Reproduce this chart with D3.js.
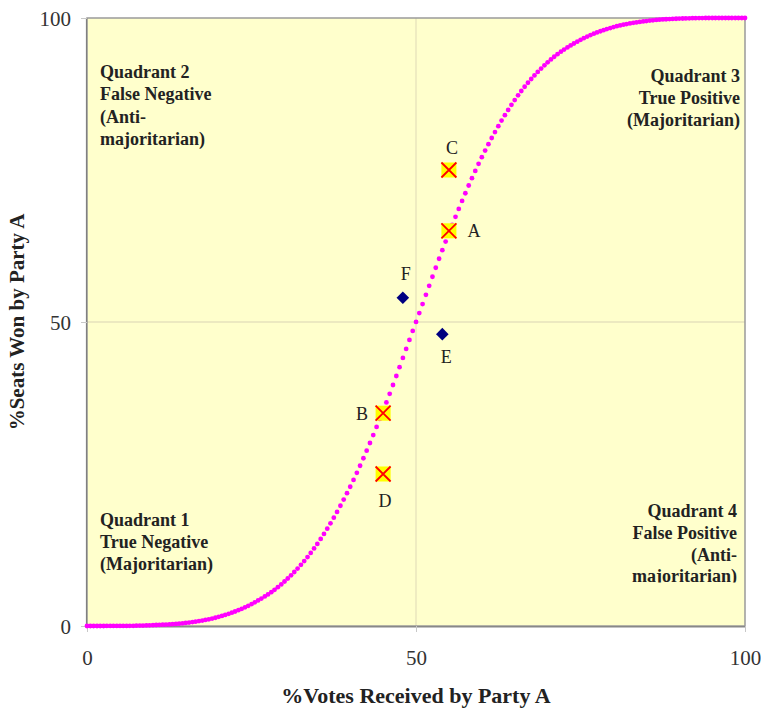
<!DOCTYPE html>
<html><head><meta charset="utf-8">
<script src="https://cdn.jsdelivr.net/npm/d3@7"></script>
<style>body{margin:0;background:#fff} text{font-family:"Liberation Serif","Times New Roman",serif}</style>
</head><body>
<svg id="c" width="761" height="713"></svg>
<script>
// ---- data ----
const curveVotes = [0, 5, 10, 15, 20, 25, 30, 35, 40, 45, 50, 55, 60, 65, 70, 75, 80, 85, 90, 95, 100];
const curveSeats = [0, 0.01, 0.14, 0.5, 1.5, 3.6, 7.3, 13.5, 22.9, 35.4, 50, 64.6, 77.1, 86.5, 92.7, 96.4, 98.5, 99.5, 99.9, 100, 100];
const pointNames = ["A", "B", "C", "D", "E", "F"];
const pointVotes = [55, 45, 55, 45, 54, 48];
const pointSeats = [65, 35, 75, 25, 48, 54];
const pointKinds = ["cross", "cross", "cross", "cross", "diamond", "diamond"];
const xTicks = [0, 50, 100];
const yTicks = [0, 50, 100];
const q1Lines = ["Quadrant 1", "True Negative", "(Majoritarian)"];
const q2Lines = ["Quadrant 2", "False Negative", "(Anti-", "majoritarian)"];
const q3Lines = ["Quadrant 3", "True Positive", "(Majoritarian)"];
const q4Lines = ["Quadrant 4", "False Positive", "(Anti-", "majoritarian)"];
const xTitle = "%Votes Received by Party A";
const yTitle = "%Seats Won by Party A";

// ---- layout ----
const svg = d3.select("#c");
const L = 87, T = 18, W = 658, H = 608;
const x = d3.scaleLinear().domain([0, 100]).range([L, L + W]);
const y = d3.scaleLinear().domain([0, 100]).range([T + H, T]);

// plot background
svg.append("rect").attr("x", L).attr("y", T).attr("width", W).attr("height", H)
  .attr("fill", "#FFFFCC");

// gridlines
svg.append("line").attr("x1", x(50)).attr("x2", x(50)).attr("y1", T).attr("y2", T + H)
  .attr("stroke", "#e6e2bc").attr("stroke-width", 1.3);
svg.append("line").attr("x1", L).attr("x2", L + W).attr("y1", y(50)).attr("y2", y(50))
  .attr("stroke", "#e6e2bc").attr("stroke-width", 1.3);

// border
svg.append("rect").attr("x", L).attr("y", T).attr("width", W).attr("height", H)
  .attr("fill", "none").attr("stroke", "#9a9a9a").attr("stroke-width", 1.5);
svg.append("line").attr("x1", L).attr("x2", L + W + 1).attr("y1", T + H + 0.8).attr("y2", T + H + 0.8)
  .attr("stroke", "#888").attr("stroke-width", 1.5);
svg.append("line").attr("x1", L - 0.5).attr("x2", L - 0.5).attr("y1", T).attr("y2", T + H)
  .attr("stroke", "#808080").attr("stroke-width", 1.2);

// axes
const xAxis = svg.append("g").attr("transform", `translate(0,${T + H})`)
  .call(d3.axisBottom(x).tickValues(xTicks).tickSize(6).tickPadding(18).tickFormat(d3.format("d")));
const yAxis = svg.append("g").attr("transform", `translate(${L},0)`)
  .call(d3.axisLeft(y).tickValues(yTicks).tickSize(6).tickPadding(10).tickFormat(d3.format("d")));
[xAxis, yAxis].forEach(a => {
  a.select(".domain").remove();
  a.selectAll(".tick line").attr("stroke", "#c8c8c8");
  a.selectAll(".tick text").attr("font-size", 21).attr("fill", "#333")
    .attr("font-family", "Liberation Serif");
});
yAxis.selectAll(".tick text").attr("dy", "0.35em");

// axis titles
svg.append("text").attr("x", x(50)).attr("y", 703).attr("text-anchor", "middle")
  .attr("font-size", 22).attr("font-weight", "bold").attr("fill", "#222").text(xTitle);
svg.append("text").attr("transform", `translate(24,${y(50)}) rotate(-90)`).attr("text-anchor", "middle")
  .attr("font-size", 21).attr("font-weight", "bold").attr("fill", "#222").text(yTitle);

// quadrant texts
function block(lines, px, py, anchor, lh, clip) {
  const g = svg.append("g");
  if (clip) g.attr("clip-path", clip);
  g.selectAll("text").data(lines).join("text")
    .attr("x", px).attr("y", (d, i) => py + i * lh)
    .attr("text-anchor", anchor).attr("font-size", 18).attr("font-weight", "bold")
    .attr("fill", "#222").text(d => d);
}
svg.append("clipPath").attr("id", "q4clip").append("rect")
  .attr("x", 500).attr("y", 490).attr("width", 260).attr("height", 92.5);
block(q2Lines, 100, 78, "start", 22.3);
block(q3Lines, 740, 82, "end", 22);
block(q1Lines, 100, 526, "start", 22);
block(q4Lines, 737, 517, "end", 21.8, "url(#q4clip)");

// curve: path through the read points, dots placed at equal vote steps
const line = d3.line().x((d, i) => x(curveVotes[i])).y((d, i) => y(curveSeats[i]))
  .curve(d3.curveMonotoneX);
const path = svg.append("path").attr("d", line(curveVotes)).attr("fill", "none").attr("stroke", "none");
const node = path.node();
const total = node.getTotalLength();
const samples = [];
for (let s = 0; s <= total; s += 0.2) samples.push(node.getPointAtLength(s));
samples.push(node.getPointAtLength(total));
const dots = [];
let k = 0;
for (let v = 0; v <= 100.0001; v += 0.5) {
  const px = x(v);
  while (k < samples.length - 1 && samples[k].x < px) k++;
  dots.push(samples[k]);
}
svg.append("g").selectAll("circle").data(dots).join("circle")
  .attr("cx", d => d.x).attr("cy", d => d.y).attr("r", 2.4).attr("fill", "#FF00FF");

// points
const pts = pointNames.map((n, i) => ({n, v: pointVotes[i], s: pointSeats[i], k: pointKinds[i]}));
const crosses = svg.append("g").selectAll("g").data(pts.filter(p => p.k === "cross")).join("g")
  .attr("transform", d => `translate(${x(d.v)},${y(d.s)})`);
const hs = 7.5;
crosses.append("rect").attr("x", -hs).attr("y", -hs).attr("width", 2 * hs).attr("height", 2 * hs)
  .attr("fill", "#FFFF00");
crosses.append("path").attr("d", `M${-hs},${-hs}L${hs},${hs}M${-hs},${hs}L${hs},${-hs}`)
  .attr("stroke", "#FF0000").attr("stroke-width", 1.8);
svg.append("g").selectAll("path").data(pts.filter(p => p.k === "diamond")).join("path")
  .attr("transform", d => `translate(${x(d.v)},${y(d.s)})`)
  .attr("d", "M0,-6.3L6.3,0L0,6.3L-6.3,0Z").attr("fill", "#000080");

// point labels
const labelOffset = {A: [25, 6], B: [-21, 7], C: [3, -16], D: [2, 33], E: [4, 29], F: [3, -18]};
svg.append("g").selectAll("text").data(pts).join("text")
  .attr("x", d => x(d.v) + labelOffset[d.n][0]).attr("y", d => y(d.s) + labelOffset[d.n][1])
  .attr("text-anchor", "middle").attr("font-size", 18).attr("fill", "#222").text(d => d.n);
</script>
</body></html>
